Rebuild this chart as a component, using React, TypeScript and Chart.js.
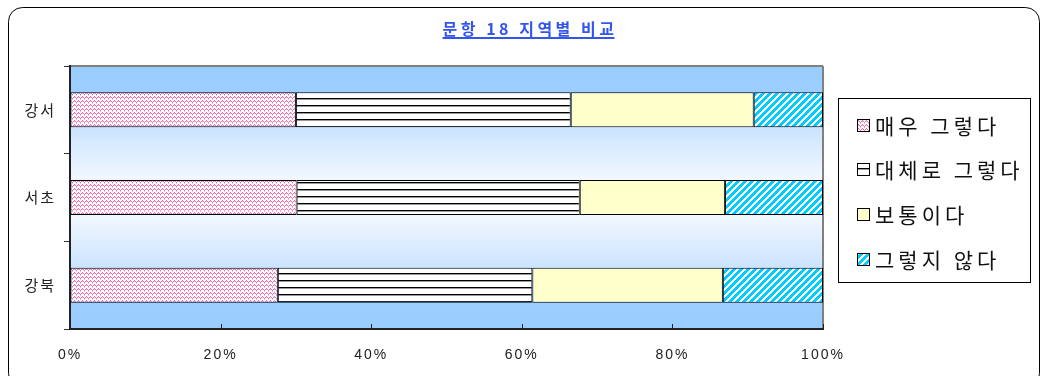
import React, { useEffect, useRef } from 'react';
import { Chart, registerables } from 'chart.js';

Chart.register(...registerables);

const TITLE = '문항 18 지역별 비교';
const regions = ['강서', '서초', '강북'];
const seriesNames = ['매우 그렇다', '대체로 그렇다', '보통이다', '그렇지 않다'];
const veryAgree = [30.0, 30.1, 27.6];
const mostlyAgree = [36.5, 37.6, 33.8];
const neutral = [24.3, 19.3, 25.3];
const disagree = [9.2, 13.0, 13.3];
const xTickValues = [0, 20, 40, 60, 80, 100];

function makeTile(w: number, h: number, bg: string, fn: (x: number, y: number) => string | null) {
  const c = document.createElement('canvas');
  c.width = w;
  c.height = h;
  const g = c.getContext('2d')!;
  g.fillStyle = bg;
  g.fillRect(0, 0, w, h);
  for (let y = 0; y < h; y++) {
    for (let x = 0; x < w; x++) {
      const col = fn(x, y);
      if (col) {
        g.fillStyle = col;
        g.fillRect(x, y, 1, 1);
      }
    }
  }
  return g.createPattern(c, 'repeat')!;
}

function makePatterns() {
  const wave = [2, 1, 0, 1];
  const pink = makeTile(4, 4, '#ffffff', (x, y) =>
    y === wave[x] ? '#f070b0' : y === (wave[x] + 1) % 4 && x % 2 === 0 ? '#f7b8d8' : null
  );
  const lines = makeTile(4, 7, '#ffffff', (x, y) => (y === 0 ? '#000000' : y === 1 ? '#9a9a9a' : null));
  const yellow = '#ffffcc';
  const cyan = makeTile(7, 7, '#ffffff', (x, y) => ((x + y) % 7 < 4 ? '#00ccff' : null));
  return [pink, lines, yellow, cyan];
}

const framePlugin = {
  id: 'frame',
  beforeUpdate(chart: any) {
    chart.ctx.letterSpacing = '2px';
  },
  beforeDraw(chart: any) {
    const ctx = chart.ctx;
    ctx.letterSpacing = '2px';
    ctx.save();
    ctx.fillStyle = '#ffffff';
    ctx.fillRect(0, 0, chart.width, chart.height);
    // outer rounded frame
    ctx.strokeStyle = '#000000';
    ctx.lineWidth = 1;
    ctx.beginPath();
    ctx.roundRect(8.5, 7.5, 1031, 380, 14);
    ctx.stroke();
    // plot background gradient
    const a = chart.chartArea;
    const grad = ctx.createLinearGradient(0, a.top, 0, a.bottom);
    grad.addColorStop(0, '#99ccff');
    grad.addColorStop(0.1, '#9dceff');
    grad.addColorStop(0.24, '#cce4ff');
    grad.addColorStop(0.5, '#ffffff');
    grad.addColorStop(0.76, '#cce4ff');
    grad.addColorStop(0.9, '#9dceff');
    grad.addColorStop(1, '#99ccff');
    ctx.fillStyle = grad;
    ctx.fillRect(a.left, a.top, a.right - a.left, a.bottom - a.top);
    ctx.strokeStyle = '#808080';
    ctx.lineWidth = 2;
    ctx.beginPath();
    ctx.moveTo(a.left, a.top);
    ctx.lineTo(a.right, a.top);
    ctx.moveTo(a.right, a.top);
    ctx.lineTo(a.right, a.bottom);
    ctx.stroke();
    // title
    ctx.letterSpacing = '3.5px';
    ctx.font = "bold 16px 'Noto Sans CJK KR', sans-serif";
    ctx.fillStyle = '#3355ee';
    ctx.textAlign = 'center';
    ctx.textBaseline = 'middle';
    const cx = 530;
    ctx.fillText(TITLE, cx, 29);
    const tw = ctx.measureText(TITLE).width;
    ctx.fillRect(cx - tw / 2, 37, tw - 3, 2);
    ctx.restore();
  },
  afterDraw(chart: any) {
    const ctx = chart.ctx;
    const a = chart.chartArea;
    const xs = chart.scales.x;
    ctx.save();
    // inward ticks on the x axis
    ctx.strokeStyle = '#222222';
    ctx.lineWidth = 1;
    for (const v of xTickValues) {
      const px = Math.round(xs.getPixelForValue(v)) + 0.5;
      ctx.beginPath();
      ctx.moveTo(px, a.bottom);
      ctx.lineTo(px, a.bottom - 5);
      ctx.stroke();
    }
    // legend
    ctx.strokeStyle = '#000000';
    ctx.lineWidth = 1;
    ctx.strokeRect(838.5, 98.5, 192, 184);
    ctx.font = "21px 'Noto Sans CJK KR', sans-serif";
    ctx.letterSpacing = '4px';
    ctx.textAlign = 'left';
    ctx.textBaseline = 'middle';
    const ys = [125, 169, 214, 259];
    chart.data.datasets.forEach((ds: any, i: number) => {
      const y = ys[i];
      ctx.fillStyle = ds.backgroundColor;
      ctx.fillRect(857, y - 6, 12, 12);
      ctx.strokeStyle = '#000000';
      ctx.strokeRect(857.5, y - 5.5, 12, 12);
      ctx.fillStyle = '#111111';
      ctx.fillText(ds.label, 875, y + 1);
    });
    ctx.restore();
  },
};

export default function App() {
  const ref = useRef<HTMLCanvasElement | null>(null);
  useEffect(() => {
    const pats = makePatterns();
    const values = [veryAgree, mostlyAgree, neutral, disagree];
    const chart = new Chart(ref.current!, {
      type: 'bar',
      data: {
        labels: regions,
        datasets: seriesNames.map((name, i) => ({
          label: name,
          data: values[i],
          backgroundColor: pats[i] as any,
          borderColor: '#000000',
          borderWidth: 1,
          borderSkipped: false,
          barPercentage: 0.4,
          categoryPercentage: 1,
        })),
      },
      options: {
        indexAxis: 'y',
        responsive: false,
        animation: false,
        devicePixelRatio: 1,
        layout: { padding: { left: 8, right: 217, top: 66, bottom: 0 } },
        plugins: {
          legend: { display: false },
          title: { display: false },
          tooltip: { enabled: false },
        },
        scales: {
          x: {
            stacked: true,
            min: 0,
            max: 100,
            afterBuildTicks: (s: any) => {
              s.ticks = xTickValues.map((v) => ({ value: v }));
            },
            afterFit: (s: any) => {
              s.height = 47;
            },
            grid: { display: true, drawOnChartArea: false, drawTicks: false },
            border: { display: true, color: '#222222', width: 2 },
            ticks: {
              padding: 18,
              color: '#222222',
              font: { family: "'Liberation Sans', sans-serif", size: 14 },
              callback: (v: any) => v + '%',
              maxRotation: 0,
            },
          },
          y: {
            stacked: true,
            afterFit: (s: any) => {
              s.width = 62;
            },
            grid: { display: true, drawOnChartArea: false, drawTicks: true, tickLength: 6, color: '#333333' },
            border: { display: true, color: '#222222', width: 2 },
            ticks: {
              padding: 8,
              color: '#222222',
              font: { family: "'Noto Sans CJK KR', sans-serif", size: 15 },
            },
          },
        },
      },
      plugins: [framePlugin],
    });
    return () => chart.destroy();
  }, []);
  return (
    <div style={{ position: 'absolute', left: 0, top: 0, width: 1040, height: 376 }}>
      <canvas ref={ref} width={1040} height={376} />
    </div>
  );
}
